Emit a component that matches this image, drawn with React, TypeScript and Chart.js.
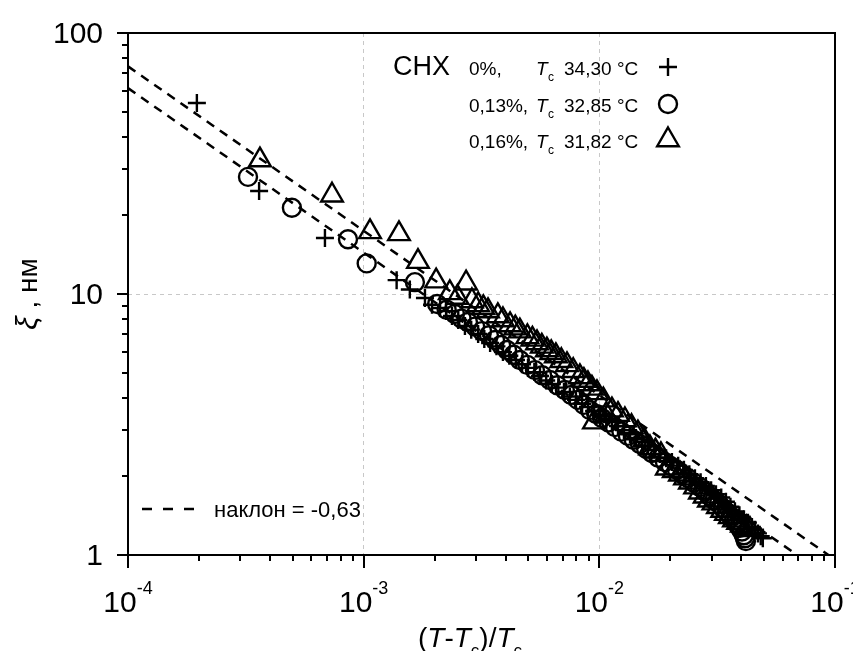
import React, { useEffect, useRef } from 'react';
import { Chart, registerables } from 'chart.js';

Chart.register(...registerables);

// ---- data ----
const plusX = [1.96e-4, 3.6e-4, 6.85e-4, 1.38e-3, 1.57e-3, 1.82e-3, 1.95e-3, 2.11e-3, 2.24e-3, 2.37e-3, 2.52e-3, 2.69e-3, 2.86e-3, 3.06e-3, 3.25e-3, 3.44e-3, 3.66e-3, 3.9e-3, 4.15e-3, 4.43e-3, 4.7e-3, 4.98e-3, 5.3e-3, 5.6e-3, 5.95e-3, 6.29e-3, 6.7e-3, 7.08e-3, 7.5e-3, 7.96e-3, 8.45e-3, 8.95e-3, 9.5e-3, 1.006e-2, 1.07e-2, 1.131e-2, 1.2e-2, 1.272e-2, 1.35e-2, 1.43e-2, 1.52e-2, 1.608e-2, 1.71e-2, 1.807e-2, 1.92e-2, 2.032e-2, 2.16e-2, 2.285e-2, 2.41e-2, 2.545e-2, 2.69e-2, 2.833e-2, 2.98e-2, 3.125e-2, 3.29e-2, 3.445e-2, 3.6e-2, 3.762e-2, 3.93e-2, 4.108e-2, 4.27e-2, 4.441e-2, 4.58e-2, 4.71e-2, 4.84e-2, 4.94e-2];
const plusY = [53.9, 24.8, 16.4, 11.3, 10.4, 9.65, 9.1, 8.84, 8.6, 8.24, 7.95, 7.54, 7.3, 7.03, 6.72, 6.49, 6.3, 5.99, 5.8, 5.59, 5.38, 5.21, 5.02, 4.85, 4.66, 4.52, 4.38, 4.21, 4.05, 3.93, 3.8, 3.69, 3.56, 3.44, 3.32, 3.23, 3.12, 3.01, 2.9, 2.81, 2.71, 2.62, 2.53, 2.44, 2.35, 2.27, 2.2, 2.12, 2.04, 1.97, 1.9, 1.84, 1.77, 1.71, 1.66, 1.6, 1.53, 1.47, 1.42, 1.37, 1.33, 1.28, 1.25, 1.21, 1.18, 1.16];

const circX = [3.23e-4, 4.96e-4, 8.58e-4, 1.03e-3, 1.65e-3, 2.05e-3, 2.25e-3, 2.44e-3, 2.6e-3, 2.77e-3, 2.97e-3, 3.18e-3, 3.4e-3, 3.61e-3, 3.83e-3, 4.06e-3, 4.33e-3, 4.6e-3, 4.95e-3, 5.33e-3, 5.72e-3, 6.17e-3, 6.63e-3, 7.14e-3, 7.6e-3, 8.11e-3, 8.6e-3, 9.12e-3, 9.7e-3, 1.026e-2, 1.095e-2, 1.165e-2, 1.24e-2, 1.322e-2, 1.4e-2, 1.487e-2, 1.58e-2, 1.672e-2, 1.78e-2, 1.898e-2, 2.01e-2, 2.134e-2, 2.25e-2, 2.376e-2, 2.52e-2, 2.672e-2, 2.81e-2, 2.946e-2, 3.08e-2, 3.218e-2, 3.35e-2, 3.479e-2, 3.6e-2, 3.726e-2, 3.85e-2, 3.949e-2, 4.03e-2, 4.108e-2, 4.15e-2, 4.188e-2];
const circY = [28.1, 21.4, 16.2, 13.1, 11.1, 9.16, 8.7, 8.38, 8.05, 7.81, 7.5, 7.21, 6.95, 6.66, 6.38, 6.1, 5.85, 5.59, 5.35, 5.11, 4.88, 4.68, 4.47, 4.29, 4.1, 3.93, 3.76, 3.59, 3.47, 3.35, 3.22, 3.09, 2.97, 2.86, 2.76, 2.66, 2.55, 2.46, 2.36, 2.27, 2.19, 2.12, 2.04, 1.97, 1.89, 1.82, 1.75, 1.68, 1.62, 1.57, 1.51, 1.46, 1.41, 1.36, 1.31, 1.27, 1.23, 1.19, 1.16, 1.13];

const triX = [3.63e-4, 7.34e-4, 1.064e-3, 1.412e-3, 1.7e-3, 2.03e-3, 2.32e-3, 2.5e-3, 2.72e-3, 2.88e-3, 3.06e-3, 3.22e-3, 3.37e-3, 3.71e-3, 3.9e-3, 4.18e-3, 4.4e-3, 4.6e-3, 4.95e-3, 5.2e-3, 5.44e-3, 5.7e-3, 5.99e-3, 6.25e-3, 6.54e-3, 6.9e-3, 7.29e-3, 7.75e-3, 8.27e-3, 8.6e-3, 8.95e-3, 9.3e-3, 9.49e-3, 9.77e-3, 1.04e-2, 1.07e-2, 1.131e-2, 1.2e-2, 1.284e-2, 1.37e-2, 1.458e-2, 1.55e-2, 1.64e-2, 1.73e-2, 1.825e-2, 1.935e-2, 2.07e-2, 2.198e-2, 2.31e-2, 2.423e-2, 2.55e-2, 2.672e-2, 2.8e-2, 2.917e-2, 3.05e-2, 3.186e-2, 3.32e-2, 3.445e-2, 3.58e-2, 3.726e-2, 3.88e-2, 4.027e-2, 4.2e-2, 4.355e-2];
const triY = [32.6, 23.9, 17.3, 17.0, 13.3, 11.2, 10.1, 9.7, 11.0, 9.4, 9.08, 8.85, 8.61, 8.24, 7.95, 7.61, 7.4, 7.21, 6.85, 6.7, 6.49, 6.3, 6.1, 5.95, 5.79, 5.55, 5.35, 5.08, 4.81, 4.66, 4.52, 4.35, 3.23, 4.18, 3.92, 3.45, 3.59, 3.45, 3.29, 3.1, 2.93, 2.75, 2.57, 2.5, 2.42, 2.15, 2.1, 2.04, 1.97, 1.9, 1.82, 1.74, 1.68, 1.62, 1.58, 1.53, 1.48, 1.44, 1.4, 1.36, 1.33, 1.3, 1.27, 1.25];

const fitX = [1e-4, 1e-1];
const fitUpperY = [74.5, 0.96];
const fitLowerY = [61.5, 0.792];

const xTickExps = ['-4', '-3', '-2', '-1'];
const xTickValues = [1e-4, 1e-3, 1e-2, 1e-1];
const yTickLabels = ['1', '10', '100'];
const yTickValues = [1, 10, 100];

const legendPct = ['0%,', '0,13%,', '0,16%,'];
const legendTemp = ['34,30', '32,85', '31,82'];
const slopeLabel = 'наклон = -0,63';

const FONT = '"Liberation Sans", Arial, sans-serif';
const MARK_W = 2.4;

function toPts(xs: number[], ys: number[]) {
  return xs.map((x, i) => ({ x, y: ys[i] }));
}

function isDecade(v: number) {
  const l = Math.log10(v);
  return Math.abs(l - Math.round(l)) < 1e-6;
}

function drawMarker(ctx: CanvasRenderingContext2D, kind: string, x: number, y: number) {
  ctx.save();
  ctx.strokeStyle = '#000';
  ctx.lineWidth = MARK_W;
  ctx.beginPath();
  if (kind === 'plus') {
    ctx.moveTo(x - 9, y); ctx.lineTo(x + 9, y);
    ctx.moveTo(x, y - 9); ctx.lineTo(x, y + 9);
  } else if (kind === 'circle') {
    ctx.arc(x, y, 9, 0, Math.PI * 2);
  } else {
    const r = 12.5;
    for (let k = 0; k < 3; k++) {
      const a = (k * 2 * Math.PI) / 3;
      const px = x + Math.sin(a) * r;
      const py = y - Math.cos(a) * r;
      if (k === 0) ctx.moveTo(px, py); else ctx.lineTo(px, py);
    }
    ctx.closePath();
  }
  ctx.stroke();
  ctx.restore();
}

const decorPlugin = {
  id: 'decor',
  afterDraw(chart: any) {
    const ctx: CanvasRenderingContext2D = chart.ctx;
    const xs = chart.scales.x;
    const ys = chart.scales.y;
    const a = chart.chartArea;
    ctx.save();
    ctx.strokeStyle = '#000';
    ctx.fillStyle = '#000';
    // frame
    ctx.lineWidth = 2;
    ctx.strokeRect(a.left, a.top, a.right - a.left, a.bottom - a.top);
    // ticks
    ctx.beginPath();
    for (let e = -4; e <= -1; e++) {
      for (let m = 1; m <= 9; m++) {
        const v = m * Math.pow(10, e);
        if (v > 0.1000001) break;
        const px = Math.round(xs.getPixelForValue(v));
        const len = m === 1 ? 13 : 6;
        ctx.moveTo(px, a.bottom);
        ctx.lineTo(px, a.bottom + len);
      }
    }
    for (let e = 0; e <= 2; e++) {
      for (let m = 1; m <= 9; m++) {
        const v = m * Math.pow(10, e);
        if (v > 100.0001) break;
        const py = Math.round(ys.getPixelForValue(v));
        const len = m === 1 ? 11 : 6;
        ctx.moveTo(a.left, py);
        ctx.lineTo(a.left - len, py);
      }
    }
    ctx.stroke();

    // x tick labels
    ctx.textBaseline = 'alphabetic';
    ctx.textAlign = 'left';
    xTickValues.forEach((v, i) => {
      const px = xs.getPixelForValue(v);
      ctx.font = `30px ${FONT}`;
      const w1 = ctx.measureText('10').width;
      ctx.font = `18px ${FONT}`;
      const w2 = ctx.measureText(xTickExps[i]).width;
      const start = px - (w1 + w2) / 2;
      ctx.font = `30px ${FONT}`;
      ctx.fillText('10', start, a.bottom + 57);
      ctx.font = `18px ${FONT}`;
      ctx.fillText(xTickExps[i], start + w1, a.bottom + 39);
    });
    // y tick labels
    ctx.font = `30px ${FONT}`;
    ctx.textAlign = 'right';
    yTickValues.forEach((v, i) => {
      const py = ys.getPixelForValue(v);
      ctx.fillText(yTickLabels[i], a.left - 25, py + 10);
    });

    // x title
    ctx.textAlign = 'left';
    let x = 410;
    const by = a.bottom + 92;
    const part = (t: string, font: string, dy = 0) => {
      ctx.font = font;
      ctx.fillText(t, x, by + dy);
      x += ctx.measureText(t).width;
    };
    const N = `28px ${FONT}`;
    const I = `italic 28px ${FONT}`;
    const S = `17px ${FONT}`;
    part('(', N); part('T', I); part('-', N); part('T', I); part('c', S, 9); part(')/', N); part('T', I); part('c', S, 9);

    // y title (rotated)
    ctx.save();
    ctx.translate(29, (a.top + a.bottom) / 2);
    ctx.rotate(-Math.PI / 2);
    const yParts: [string, string][] = [['ξ', `italic 30px ${FONT}`], [' , ', `28px ${FONT}`], ['нм', `28px ${FONT}`]];
    let tw = 0;
    yParts.forEach(([t, f]) => { ctx.font = f; tw += ctx.measureText(t).width; });
    let yx = -tw / 2;
    yParts.forEach(([t, f]) => { ctx.font = f; ctx.fillText(t, yx, 0); yx += ctx.measureText(t).width; });
    ctx.restore();

    // legend top right
    ctx.font = `27px ${FONT}`;
    ctx.fillText('CHX', 385, 67);
    const kinds = ['plus', 'circle', 'triangle'];
    const rowBase = [67, 104, 140];
    for (let r = 0; r < 3; r++) {
      const b = rowBase[r];
      ctx.font = `19px ${FONT}`;
      ctx.fillText(legendPct[r], 461, b);
      ctx.font = `italic 19px ${FONT}`;
      ctx.fillText('T', 528, b);
      ctx.font = `12px ${FONT}`;
      ctx.fillText('c', 540, b + 6);
      ctx.font = `19px ${FONT}`;
      ctx.fillText(legendTemp[r], 556, b);
      ctx.fillText('°C', 609, b);
      drawMarker(ctx, kinds[r], 660, b - 8);
    }

    // slope legend
    ctx.save();
    ctx.lineWidth = 2.5;
    ctx.setLineDash([10, 11]);
    ctx.beginPath();
    ctx.moveTo(134, 501);
    ctx.lineTo(195, 501);
    ctx.stroke();
    ctx.restore();
    ctx.font = `22px ${FONT}`;
    ctx.fillText(slopeLabel, 206, 509);

    ctx.restore();
  },
};

export default function App() {
  const ref = useRef<HTMLCanvasElement | null>(null);
  useEffect(() => {
    document.documentElement.style.overflow = 'hidden';
    document.body.style.overflow = 'hidden';
    const canvas = ref.current!;
    const gridColor = (c: any) => {
      const v = c.tick && c.tick.value;
      if (!v) return 'rgba(0,0,0,0)';
      return isDecade(v) ? '#c8c8c8' : 'rgba(0,0,0,0)';
    };
    const chart = new Chart(canvas, {
      type: 'scatter',
      data: {
        datasets: [
          { data: toPts(fitX, fitUpperY), showLine: true, borderColor: '#000', borderWidth: 2.5, borderDash: [9, 7], pointRadius: 0, fill: false },
          { data: toPts(fitX, fitLowerY), showLine: true, borderColor: '#000', borderWidth: 2.5, borderDash: [9, 7], pointRadius: 0, fill: false },
          { data: toPts(triX, triY), pointStyle: 'triangle', pointRadius: 12.5, borderColor: '#000', backgroundColor: 'rgba(0,0,0,0)', borderWidth: MARK_W },
          { data: toPts(circX, circY), pointStyle: 'circle', pointRadius: 9, borderColor: '#000', backgroundColor: 'rgba(0,0,0,0)', borderWidth: MARK_W },
          { data: toPts(plusX, plusY), pointStyle: 'cross', pointRadius: 9, borderColor: '#000', backgroundColor: '#000', borderWidth: MARK_W },
        ],
      },
      options: {
        responsive: false,
        animation: false,
        events: [],
        layout: { padding: { left: 120, right: 18, top: 25, bottom: 96 } },
        plugins: { legend: { display: false }, tooltip: { enabled: false } },
        scales: {
          x: {
            type: 'logarithmic', min: 1e-4, max: 1e-1,
            ticks: { display: false },
            grid: { color: gridColor, lineWidth: 1, drawTicks: false },
            border: { display: false, dash: [4, 4] },
          },
          y: {
            type: 'logarithmic', min: 1, max: 100,
            ticks: { display: false },
            grid: { color: gridColor, lineWidth: 1, drawTicks: false },
            border: { display: false, dash: [4, 4] },
          },
        },
      },
      plugins: [decorPlugin],
    });
    return () => chart.destroy();
  }, []);
  return (
    <div>
      <canvas ref={ref} width={845} height={643} style={{ display: 'block' }} />
    </div>
  );
}
